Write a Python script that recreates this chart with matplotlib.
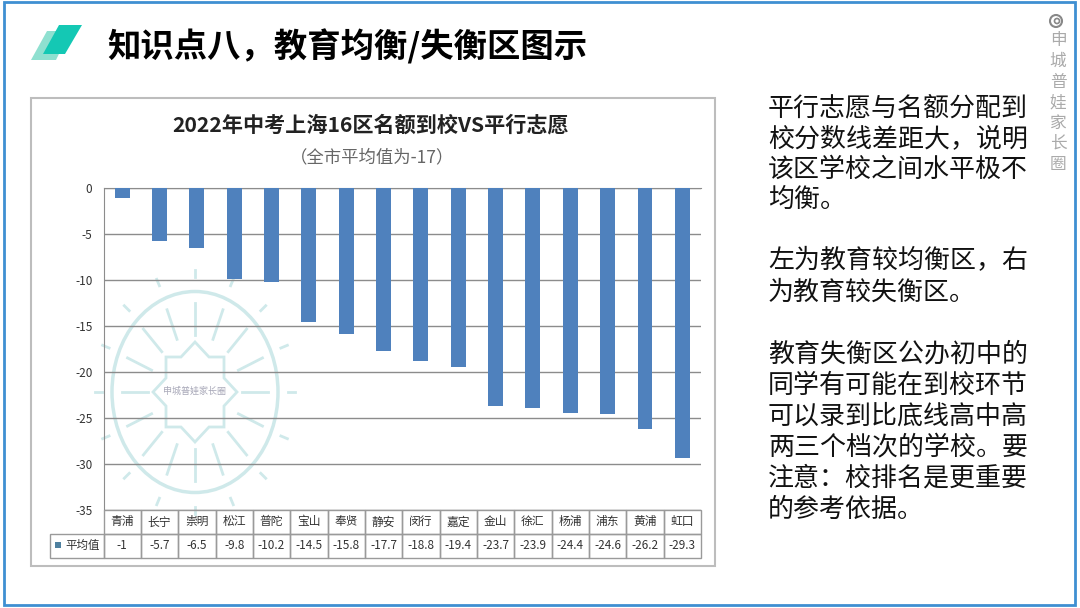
import numpy as np
import matplotlib
matplotlib.use('Agg')
from matplotlib import pyplot as plt
from matplotlib.patches import Polygon, Rectangle, Circle, Ellipse

plt.rcParams['font.family'] = ['Noto Sans CJK SC', 'DejaVu Sans']
plt.rcParams['axes.unicode_minus'] = False

districts = ['青浦', '长宁', '崇明', '松江', '普陀', '宝山', '奉贤', '静安',
             '闵行', '嘉定', '金山', '徐汇', '杨浦', '浦东', '黄浦', '虹口']
values = [-1, -5.7, -6.5, -9.8, -10.2, -14.5, -15.8, -17.7,
          -18.8, -19.4, -23.7, -23.9, -24.4, -24.6, -26.2, -29.3]
yticks = [0, -5, -10, -15, -20, -25, -30, -35]
series_name = '平均值'

title = '知识点八，教育均衡/失衡区图示'
chart_title = '2022年中考上海16区名额到校VS平行志愿'
chart_sub = '（全市平均值为-17）'
side_lines = [('平行志愿与名额分配到', 108), ('校分数线差距大，说明', 139), ('该区学校之间水平极不', 169),
              ('均衡。', 199), ('左为教育较均衡区，右', 261), ('为教育较失衡区。', 292),
              ('教育失衡区公办初中的', 354), ('同学有可能在到校环节', 385), ('可以录到比底线高中高', 416),
              ('两三个档次的学校。要', 447), ('注意：校排名是更重要', 478), ('的参考依据。', 509)]
brand = '申城普娃家长圈'

W, H = 1080, 608
fig = plt.figure(figsize=(W / 100, H / 100), dpi=100)

# full page axes in pixel coords
page = fig.add_axes([0, 0, 1, 1])
page.set_xlim(0, W)
page.set_ylim(H, 0)
page.axis('off')

page.add_patch(Rectangle((4, 1.5), 1071, 603, fc='white', ec='#3f8fd2', lw=2))
page.add_patch(Polygon([[31, 60], [56, 60], [70, 31], [47, 31]], fc='#8fe0d0', ec='none'))
page.add_patch(Polygon([[43, 54], [65, 54], [82, 25], [59, 25]], fc='#14c8b4', ec='none'))
page.text(107.5, 47, title, fontsize=24, fontweight='bold', va='center', color='black')

page.add_patch(Rectangle((30.5, 98), 684, 468, fc='white', ec='#bdbdbd', lw=1.5))
page.text(371, 125, chart_title, fontsize=15.2, fontweight='bold', ha='center', va='center', color='#222222')
page.text(372, 157, chart_sub, fontsize=12.5, ha='center', va='center', color='#666666')

for txt, y in side_lines:
    page.text(768, y, txt, fontsize=18.7, va='center', color='#111111')

page.add_patch(Circle((1056, 21), 6, fc='none', ec='#888888', lw=1.5))
page.add_patch(Circle((1057, 21), 2.5, fc='none', ec='#888888', lw=1.2))
for i, ch in enumerate(brand):
    page.text(1058, 41 + i * 20.5, ch, fontsize=12, ha='center', va='center', color='#aaaaaa')

# plot area
x0, x1, y0, y1 = 103.5, 701, 188.5, 510
ax = fig.add_axes([x0 / W, 1 - y1 / H, (x1 - x0) / W, (y1 - y0) / H])
ax.patch.set_alpha(0)
x = np.arange(len(values))
ax.bar(x, values, width=0.4, color='#4f81bd', zorder=3)
ax.set_xlim(-0.5, len(values) - 0.5)
ax.set_ylim(-35, 0)
ax.set_yticks(yticks)
ax.set_xticks([])
ax.tick_params(axis='y', length=0, labelsize=8.5, labelcolor='#333333', pad=8)
ax.grid(axis='y', color='#8c8c8c', lw=1, zorder=1)
for s in ['right', 'bottom']:
    ax.spines[s].set_visible(False)
ax.spines['top'].set_color('#8c8c8c')
ax.spines['left'].set_color('#8c8c8c')

# watermark
cx, cy = 195, 392
wm = dict(color='#cfe9ea', lw=2, zorder=2)
page.add_patch(Ellipse((cx, cy), 166, 201, fc='none', ec='#cfe9ea', lw=2.5, zorder=2))
for a in np.arange(0, 360, 22.5):
    c, s = np.cos(np.radians(a)), np.sin(np.radians(a))
    page.plot([cx + 47 * c, cx + 73 * c], [cy + 57 * s, cy + 89 * s], **wm)
    page.plot([cx + 93 * c, cx + 100 * c], [cy + 115 * s, cy + 122 * s], **wm)
star = [[0, -50], [14, -35], [29, -35], [29, -14], [42, 0], [29, 14], [29, 35], [14, 35],
        [0, 50], [-14, 35], [-29, 35], [-29, 14], [-42, 0], [-29, -14], [-29, -35], [-14, -35]]
page.add_patch(Polygon([[cx + dx, cy + dy] for dx, dy in star], fc='none', ec='#cfe9ea', lw=2, zorder=2))
page.text(cx, cy - 1, brand, fontsize=6.5, ha='center', va='center', color='#a8a8b8', zorder=2)

# data table under the plot
tx0, ty0, ty1 = 50, 510, 557.5
tab = fig.add_axes([tx0 / W, 1 - ty1 / H, (x1 - tx0) / W, (ty1 - ty0) / H])
tab.axis('off')
step = (x1 - x0) / len(values)
total = x1 - tx0
rows = [[''] + districts, [''] + [f'{v:g}' for v in values]]
widths = [(x0 - tx0) / total] + [step / total] * len(values)
tb = tab.table(cellText=rows, colWidths=widths, cellLoc='center', bbox=[0, 0, 1, 1])
tb.auto_set_font_size(False)
tb.set_fontsize(8.5)
for (r, c), cell in tb.get_celld().items():
    cell.set_edgecolor('#9a9a9a')
    cell.set_linewidth(1)
    cell.set_facecolor('none')
    cell.get_text().set_color('#333333')
    if r == 0 and c == 0:
        cell.set_edgecolor('none')

# legend key in the first cell
tab_key = fig.add_axes([0, 0, 1, 1])
tab_key.set_xlim(0, W)
tab_key.set_ylim(H, 0)
tab_key.axis('off')
tab_key.add_patch(Rectangle((55, 542), 6, 6, fc='#4f81a0', ec='none'))
tab_key.text(65, 545, series_name, fontsize=8.3, va='center', color='#333333')

fig.savefig('out.png', dpi=100)
